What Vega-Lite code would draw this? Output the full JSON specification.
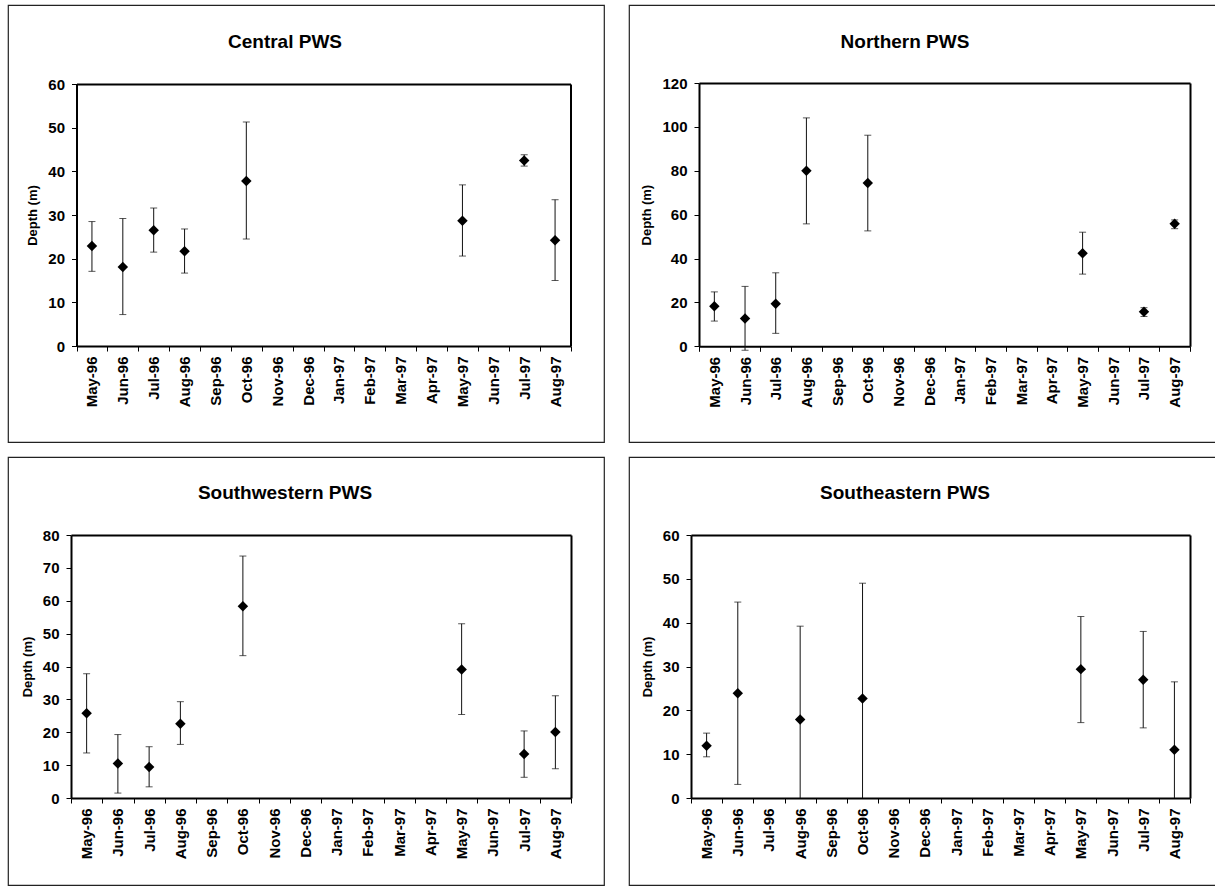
{
  "$schema": "https://vega.github.io/schema/vega-lite/v6.json",
  "padding": {"left": 0, "top": 4, "right": 0, "bottom": 0},
  "background": "white",
  "datasets": {
    "central": [
      {"month": "May-96", "depth": 22.9, "lo": 17.1, "hi": 28.5, "clipped": false},
      {"month": "Jun-96", "depth": 18.1, "lo": 7.2, "hi": 29.2, "clipped": false},
      {"month": "Jul-96", "depth": 26.5, "lo": 21.5, "hi": 31.6, "clipped": false},
      {"month": "Aug-96", "depth": 21.7, "lo": 16.7, "hi": 26.8, "clipped": false},
      {"month": "Oct-96", "depth": 37.8, "lo": 24.5, "hi": 51.3, "clipped": false},
      {"month": "May-97", "depth": 28.7, "lo": 20.6, "hi": 36.9, "clipped": false},
      {"month": "Jul-97", "depth": 42.5, "lo": 41.2, "hi": 43.8, "clipped": false},
      {"month": "Aug-97", "depth": 24.2, "lo": 15.0, "hi": 33.5, "clipped": false}
    ],
    "northern": [
      {"month": "May-96", "depth": 18.2, "lo": 11.5, "hi": 24.8, "clipped": false},
      {"month": "Jun-96", "depth": 12.7, "lo": -1.8, "hi": 27.3, "clipped": false},
      {"month": "Jul-96", "depth": 19.4, "lo": 5.9, "hi": 33.5, "clipped": false},
      {"month": "Aug-96", "depth": 80.0, "lo": 55.8, "hi": 104.1, "clipped": false},
      {"month": "Oct-96", "depth": 74.4, "lo": 52.6, "hi": 96.2, "clipped": false},
      {"month": "May-97", "depth": 42.4, "lo": 32.9, "hi": 52.0, "clipped": false},
      {"month": "Jul-97", "depth": 15.8, "lo": 13.6, "hi": 17.6, "clipped": false},
      {"month": "Aug-97", "depth": 55.8, "lo": 53.6, "hi": 57.6, "clipped": false}
    ],
    "southwestern": [
      {"month": "May-96", "depth": 25.8, "lo": 13.7, "hi": 37.8, "clipped": false},
      {"month": "Jun-96", "depth": 10.5, "lo": 1.5, "hi": 19.3, "clipped": false},
      {"month": "Jul-96", "depth": 9.4, "lo": 3.4, "hi": 15.6, "clipped": false},
      {"month": "Aug-96", "depth": 22.6, "lo": 16.3, "hi": 29.3, "clipped": false},
      {"month": "Oct-96", "depth": 58.3, "lo": 43.3, "hi": 73.6, "clipped": false},
      {"month": "May-97", "depth": 39.1, "lo": 25.4, "hi": 53.0, "clipped": false},
      {"month": "Jul-97", "depth": 13.4, "lo": 6.3, "hi": 20.4, "clipped": false},
      {"month": "Aug-97", "depth": 20.1, "lo": 8.9, "hi": 31.1, "clipped": false}
    ],
    "southeastern": [
      {"month": "May-96", "depth": 11.9, "lo": 9.4, "hi": 14.8, "clipped": false},
      {"month": "Jun-96", "depth": 23.9, "lo": 3.1, "hi": 44.7, "clipped": false},
      {"month": "Aug-96", "depth": 17.9, "lo": 0, "hi": 39.2, "clipped": true},
      {"month": "Oct-96", "depth": 22.7, "lo": 0, "hi": 49.0, "clipped": true},
      {"month": "May-97", "depth": 29.4, "lo": 17.2, "hi": 41.4, "clipped": false},
      {"month": "Jul-97", "depth": 27.0, "lo": 16.0, "hi": 38.0, "clipped": false},
      {"month": "Aug-97", "depth": 11.0, "lo": 0, "hi": 26.5, "clipped": true}
    ]
  },
  "spacing": {"row": 15, "column": 25},
  "bounds": "flush",
  "columns": 2,
  "concat": [
    {
      "width": 596, "height": 437,
      "title": {"text": "Central PWS", "dx": -21, "offset": -47},
      "data": {"name": "central"},
      "layer": [
        {
          "mark": {"type": "rule", "color": "#111", "strokeWidth": 1},
          "encoding": {
            "x": {"field": "month", "type": "ordinal",
              "scale": {"type": "band", "domain": ["May-96","Jun-96","Jul-96","Aug-96","Sep-96","Oct-96","Nov-96","Dec-96","Jan-97","Feb-97","Mar-97","Apr-97","May-97","Jun-97","Jul-97","Aug-97"], "range": [68.5, 562.5], "paddingInner": 0, "paddingOuter": 0},
              "axis": {"orient": "bottom", "offset": -96, "title": null, "labelAngle": -90, "tickBand": "extent", "labelOverlap": false, "labelPadding": 5}},
            "y": {"field": "lo", "type": "quantitative",
              "scale": {"domain": [0, 60], "range": [341, 79], "nice": false, "zero": false},
              "axis": {"orient": "left", "offset": -68.5, "title": "Depth (m)", "values": [0,10,20,30,40,50,60]}},
            "y2": {"field": "hi"}
          }
        },
        {
          "mark": {"type": "tick", "orient": "horizontal", "size": 7, "thickness": 1, "color": "#111"},
          "encoding": {
            "x": {"field": "month", "type": "ordinal", "axis": {"orient": "top", "offset": -79, "labels": false, "ticks": false, "title": null}},
            "y": {"field": "hi", "type": "quantitative", "axis": {"orient": "right", "offset": -33.5, "labels": false, "ticks": false, "title": null}}
          }
        },
        {
          "transform": [{"filter": "!datum.clipped"}],
          "mark": {"type": "tick", "orient": "horizontal", "size": 7, "thickness": 1, "color": "#111"},
          "encoding": {
            "x": {"field": "month", "type": "ordinal", "axis": null},
            "y": {"field": "lo", "type": "quantitative", "axis": null}
          }
        },
        {
          "mark": {"type": "point", "shape": "diamond", "filled": true, "size": 110, "color": "#000", "opacity": 1},
          "encoding": {
            "x": {"field": "month", "type": "ordinal", "axis": null},
            "y": {"field": "depth", "type": "quantitative", "axis": null}
          }
        }
      ],
      "resolve": {"axis": {"x": "independent", "y": "independent"}}
    },
    {
      "width": 596, "height": 437,
      "title": {"text": "Northern PWS", "dx": -22, "offset": -47},
      "data": {"name": "northern"},
      "layer": [
        {
          "mark": {"type": "rule", "color": "#111", "strokeWidth": 1},
          "encoding": {
            "x": {"field": "month", "type": "ordinal",
              "scale": {"type": "band", "domain": ["May-96","Jun-96","Jul-96","Aug-96","Sep-96","Oct-96","Nov-96","Dec-96","Jan-97","Feb-97","Mar-97","Apr-97","May-97","Jun-97","Jul-97","Aug-97"], "range": [70, 561], "paddingInner": 0, "paddingOuter": 0},
              "axis": {"orient": "bottom", "offset": -95.7, "title": null, "labelAngle": -90, "tickBand": "extent", "labelOverlap": false, "labelPadding": 5}},
            "y": {"field": "lo", "type": "quantitative",
              "scale": {"domain": [0, 120], "range": [341.3, 78], "nice": false, "zero": false},
              "axis": {"orient": "left", "offset": -70, "title": "Depth (m)", "values": [0,20,40,60,80,100,120]}},
            "y2": {"field": "hi"}
          }
        },
        {
          "mark": {"type": "tick", "orient": "horizontal", "size": 7, "thickness": 1, "color": "#111"},
          "encoding": {
            "x": {"field": "month", "type": "ordinal", "axis": {"orient": "top", "offset": -78, "labels": false, "ticks": false, "title": null}},
            "y": {"field": "hi", "type": "quantitative", "axis": {"orient": "right", "offset": -35, "labels": false, "ticks": false, "title": null}}
          }
        },
        {
          "transform": [{"filter": "!datum.clipped"}],
          "mark": {"type": "tick", "orient": "horizontal", "size": 7, "thickness": 1, "color": "#111"},
          "encoding": {
            "x": {"field": "month", "type": "ordinal", "axis": null},
            "y": {"field": "lo", "type": "quantitative", "axis": null}
          }
        },
        {
          "mark": {"type": "point", "shape": "diamond", "filled": true, "size": 110, "color": "#000", "opacity": 1},
          "encoding": {
            "x": {"field": "month", "type": "ordinal", "axis": null},
            "y": {"field": "depth", "type": "quantitative", "axis": null}
          }
        }
      ],
      "resolve": {"axis": {"x": "independent", "y": "independent"}}
    },
    {
      "width": 596, "height": 428,
      "title": {"text": "Southwestern PWS", "dx": -21, "offset": -46},
      "data": {"name": "southwestern"},
      "layer": [
        {
          "mark": {"type": "rule", "color": "#111", "strokeWidth": 1},
          "encoding": {
            "x": {"field": "month", "type": "ordinal",
              "scale": {"type": "band", "domain": ["May-96","Jun-96","Jul-96","Aug-96","Sep-96","Oct-96","Nov-96","Dec-96","Jan-97","Feb-97","Mar-97","Apr-97","May-97","Jun-97","Jul-97","Aug-97"], "range": [63, 563], "paddingInner": 0, "paddingOuter": 0},
              "axis": {"orient": "bottom", "offset": -87, "title": null, "labelAngle": -90, "tickBand": "extent", "labelOverlap": false, "labelPadding": 5}},
            "y": {"field": "lo", "type": "quantitative",
              "scale": {"domain": [0, 80], "range": [341, 78], "nice": false, "zero": false},
              "axis": {"orient": "left", "offset": -63, "title": "Depth (m)", "values": [0,10,20,30,40,50,60,70,80]}},
            "y2": {"field": "hi"}
          }
        },
        {
          "mark": {"type": "tick", "orient": "horizontal", "size": 7, "thickness": 1, "color": "#111"},
          "encoding": {
            "x": {"field": "month", "type": "ordinal", "axis": {"orient": "top", "offset": -78, "labels": false, "ticks": false, "title": null}},
            "y": {"field": "hi", "type": "quantitative", "axis": {"orient": "right", "offset": -33, "labels": false, "ticks": false, "title": null}}
          }
        },
        {
          "transform": [{"filter": "!datum.clipped"}],
          "mark": {"type": "tick", "orient": "horizontal", "size": 7, "thickness": 1, "color": "#111"},
          "encoding": {
            "x": {"field": "month", "type": "ordinal", "axis": null},
            "y": {"field": "lo", "type": "quantitative", "axis": null}
          }
        },
        {
          "mark": {"type": "point", "shape": "diamond", "filled": true, "size": 110, "color": "#000", "opacity": 1},
          "encoding": {
            "x": {"field": "month", "type": "ordinal", "axis": null},
            "y": {"field": "depth", "type": "quantitative", "axis": null}
          }
        }
      ],
      "resolve": {"axis": {"x": "independent", "y": "independent"}}
    },
    {
      "width": 596, "height": 428,
      "title": {"text": "Southeastern PWS", "dx": -22, "offset": -46},
      "data": {"name": "southeastern"},
      "layer": [
        {
          "mark": {"type": "rule", "color": "#111", "strokeWidth": 1},
          "encoding": {
            "x": {"field": "month", "type": "ordinal",
              "scale": {"type": "band", "domain": ["May-96","Jun-96","Jul-96","Aug-96","Sep-96","Oct-96","Nov-96","Dec-96","Jan-97","Feb-97","Mar-97","Apr-97","May-97","Jun-97","Jul-97","Aug-97"], "range": [62, 561], "paddingInner": 0, "paddingOuter": 0},
              "axis": {"orient": "bottom", "offset": -87, "title": null, "labelAngle": -90, "tickBand": "extent", "labelOverlap": false, "labelPadding": 5}},
            "y": {"field": "lo", "type": "quantitative",
              "scale": {"domain": [0, 60], "range": [341, 78], "nice": false, "zero": false},
              "axis": {"orient": "left", "offset": -62, "title": "Depth (m)", "values": [0,10,20,30,40,50,60]}},
            "y2": {"field": "hi"}
          }
        },
        {
          "mark": {"type": "tick", "orient": "horizontal", "size": 7, "thickness": 1, "color": "#111"},
          "encoding": {
            "x": {"field": "month", "type": "ordinal", "axis": {"orient": "top", "offset": -78, "labels": false, "ticks": false, "title": null}},
            "y": {"field": "hi", "type": "quantitative", "axis": {"orient": "right", "offset": -35, "labels": false, "ticks": false, "title": null}}
          }
        },
        {
          "transform": [{"filter": "!datum.clipped"}],
          "mark": {"type": "tick", "orient": "horizontal", "size": 7, "thickness": 1, "color": "#111"},
          "encoding": {
            "x": {"field": "month", "type": "ordinal", "axis": null},
            "y": {"field": "lo", "type": "quantitative", "axis": null}
          }
        },
        {
          "mark": {"type": "point", "shape": "diamond", "filled": true, "size": 110, "color": "#000", "opacity": 1},
          "encoding": {
            "x": {"field": "month", "type": "ordinal", "axis": null},
            "y": {"field": "depth", "type": "quantitative", "axis": null}
          }
        }
      ],
      "resolve": {"axis": {"x": "independent", "y": "independent"}}
    }
  ],
  "config": {
    "view": {"stroke": "#222", "strokeWidth": 1.2},
    "font": "Liberation Sans",
    "title": {"font": "Liberation Sans", "fontSize": 19, "fontWeight": "bold", "color": "#000", "anchor": "middle"},
    "axis": {
      "grid": false,
      "labelFont": "Liberation Sans", "labelFontWeight": "bold", "labelFontSize": 15, "labelColor": "#000",
      "titleFont": "Liberation Sans", "titleFontWeight": "bold", "titleFontSize": 13, "titleColor": "#000",
      "domainColor": "#000", "domainWidth": 2, "tickColor": "#000", "tickWidth": 1, "tickSize": 5,
      "labelPadding": 7, "titlePadding": 8
    }
  }
}
